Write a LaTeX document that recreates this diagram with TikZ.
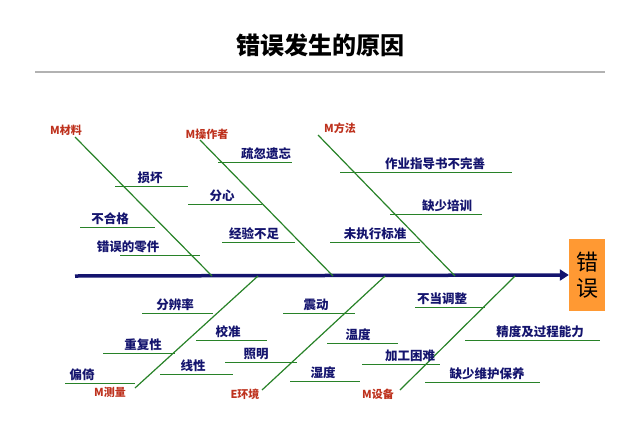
\documentclass[tikz,border=0pt]{standalone}
\usepackage{fontspec}
\setmainfont{Noto Sans CJK SC}
\usetikzlibrary{arrows.meta}
\definecolor{bone}{RGB}{40,130,40}
\definecolor{navy}{RGB}{20,20,110}
\definecolor{catred}{RGB}{190,50,30}
\tikzset{
  bonel/.style={bone,line width=1.2pt},
  cause/.style={font=\bfseries\fontsize{12.5}{12.5}\selectfont,text=navy,inner sep=1pt},
  cat/.style={font=\bfseries\fontsize{11}{11}\selectfont,text=catred,inner sep=1pt}
}
\begin{document}
\begin{tikzpicture}[x=1pt,y=-1pt]
  \useasboundingbox (0,0) rectangle (640,437);
  % Title
  \node (title) at (320,45) {\bfseries\fontsize{24}{24}\selectfont 错误发生的原因};
  \draw[gray!60,line width=1.5pt] (35,72) -- (605,72);
  % Spine and effect
  \node (effect) [fill=orange!80,minimum width=36pt,minimum height=72pt,inner sep=0pt,
        align=center,font=\fontsize{22}{26}\selectfont] at (587,275) {错\\误};
  \coordinate (tail) at (75,276);
  \draw[navy,line width=3.5pt,-{Triangle[length=9pt,width=11pt]}] (tail) -- (effect.west);
  % Category bones
  \coordinate (b1) at (212,276); \coordinate (b2) at (333,276);
  \coordinate (b3) at (455,276); \coordinate (b4) at (258,276);
  \coordinate (b5) at (385,276); \coordinate (b6) at (515,276);
  \node (mat) [cat] at (66,130) {M材料};
  \node (man) [cat] at (207,134) {M操作者};
  \node (met) [cat] at (340,128) {M方法};
  \node (mea) [cat] at (110,392) {M测量};
  \node (env) [cat] at (245,394) {E环境};
  \node (mac) [cat] at (378,394) {M设备};
  \draw[bonel] (75,137) -- (b1);
  \draw[bonel] (200,140) -- (b2);
  \draw[bonel] (318,135) -- (b3);
  \draw[bonel] (b4) -- (135,388);
  \draw[bonel] (b5) -- (262,390);
  \draw[bonel] (b6) -- (400,390);
  % Causes: text, line start, line end
  \foreach \t/\x/\y/\a/\b in {
      损坏/150/177/115/188, 不合格/110/218/80/155, 错误的零件/128/246/120/200,
      疏忽遗忘/266/153/218/292, 分心/222/195/188/262, 经验不足/254/233/222/295,
      作业指导书不完善/435/163/340/512, 缺少培训/447/205/390/482, 未执行标准/375/233/330/420,
      分辨率/175/304/142/213, 重复性/143/344/103/175, 偏倚/82/374/65/135,
      校准/228/331/196/267, 线性/193/365/160/233,
      震动/316/304/283/355, 温度/358/334/327/398, 照明/256/353/225/297, 湿度/323/372/290/360,
      不当调整/442/298/415/485, 精度及过程能力/540/331/465/600,
      加工困难/410/355/362/440, 缺少维护保养/487/373/425/540}
  {
    \node (c) [cause,anchor=south] at (\x,\y+8) {\t};
    \draw[bonel,line width=1pt] (\a,\y+9) -- (\b,\y+9);
  }
\end{tikzpicture}
\end{document}
